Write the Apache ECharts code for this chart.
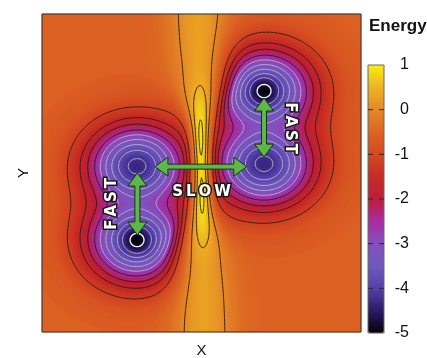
<!DOCTYPE html>
<html>
<head>
<meta charset="utf-8">
<script src="https://cdn.jsdelivr.net/npm/echarts@6/dist/echarts.min.js"></script>
<style>
  html, body { margin: 0; padding: 0; background: #fff; }
  #chart { width: 427px; height: 358px; }
</style>
</head>
<body>
<div id="chart"></div>
<script>
// energy surface (unit square, y pointing up)
const wellX = [0.696, 0.696, 0.298, 0.298];
const wellY = [0.758, 0.528, 0.522, 0.289];
const wellDepth = [3.75, 3.75, 3.75, 3.75];
const wellPit = [0.7, 0, 0, 0.7];
const wellWidths = [0.113, 0.097, 0.028]; // x, y, pit
const wellBlend = 1.2;
const baseEnergy = -0.55;
// barrier between the two pairs
const ridgeX = [0.509, 0.491];            // crest x at bottom and top
const ridgeCrest = [0.3, 0.95, 0.15];     // crest energy at ends, in the middle, dip at the centre
const ridgeMid = [0.52, 0.195, 0.038];    // centre y, half length, dip width
const ridgeWidths = [0.069, 0.025];       // width at the ends, in the middle
const ridgeShield = [0.0565, 0.022];      // how far the barrier hides the wells

const grayLevels = [-4.2, -3.85, -3.5, -3.15, -2.8];
const whiteLevels = [-4.75];
const blackLevels = [-2.45, -2.05, -1.65, -1.15, 0, 0.45, 0.85];

const cbTicks = [1, 0, -1, -2, -3, -4, -5];
const cbDashes = [0, -1, -2, -3, -4];

const arrowFrom = [[0.696, 0.736], [0.299, 0.5], [0.354, 0.52]];
const arrowTo = [[0.696, 0.55], [0.299, 0.305], [0.642, 0.52]];
const labelText = ['FAST', 'FAST', 'SLOW'];
const labelAt = [[0.777, 0.641], [0.219, 0.403], [0.5, 0.44]];
const labelTurn = [-90, 90, 0];

function depth(x, y) {
  let s = 0;
  for (let k = 0; k < wellX.length; k++) {
    const dx = (x - wellX[k]) / wellWidths[0], dy = (y - wellY[k]) / wellWidths[1];
    const r2 = (x - wellX[k]) ** 2 + (y - wellY[k]) ** 2;
    const g = wellDepth[k] * Math.exp(-(dx * dx + dy * dy) / 2)
            + wellPit[k] * Math.exp(-r2 / (2 * wellWidths[2] ** 2));
    s += Math.exp(g / wellBlend) - 1;
  }
  return wellBlend * Math.log(1 + s);
}

function energy(x, y) {
  const x0 = ridgeX[0] + (ridgeX[1] - ridgeX[0]) * y;
  const d = y - ridgeMid[0];
  const f = Math.exp(-0.5 * (d / ridgeMid[1]) ** 4);
  const crest = ridgeCrest[0] + (ridgeCrest[1] - ridgeCrest[0]) * f
              - ridgeCrest[2] * Math.exp(-d * d / (2 * ridgeMid[2] ** 2));
  const w = ridgeWidths[0] + (ridgeWidths[1] - ridgeWidths[0]) * f;
  const ws = ridgeShield[0] + (ridgeShield[1] - ridgeShield[0]) * f;
  const dx = x - x0;
  const S = Math.exp(-dx * dx / (2 * w * w));
  const m = Math.exp(-dx * dx / (2 * ws * ws));
  return baseEnergy - depth(x, y) * (1 - m) + (crest - baseEnergy) * S;
}

// heatmap cells, one per screen pixel
const NX = 319, NY = 318;
const xCats = [], yCats = [];
for (let i = 0; i < NX; i++) xCats.push(i);
for (let j = 0; j < NY; j++) yCats.push(j);
const cells = [];
for (let j = 0; j < NY; j++)
  for (let i = 0; i < NX; i++)
    cells.push([i, j, energy((i + 0.5) / NX, (j + 0.5) / NY)]);

// contour lines by marching squares
const M = 241;
const F = [];
for (let j = 0; j < M; j++) {
  const row = [];
  for (let i = 0; i < M; i++) row.push(energy(i / (M - 1), j / (M - 1)));
  F.push(row);
}

function contour(level) {
  const pos = new Map(), adj = new Map();
  const keyH = (i, j) => j * M + i, keyV = (i, j) => M * M + j * M + i;
  const point = (key) => {
    if (pos.has(key)) return;
    if (key < M * M) {
      const j = Math.floor(key / M), i = key % M;
      const t = (level - F[j][i]) / (F[j][i + 1] - F[j][i]);
      pos.set(key, [(i + t) / (M - 1), j / (M - 1)]);
    } else {
      const k = key - M * M, j = Math.floor(k / M), i = k % M;
      const t = (level - F[j][i]) / (F[j + 1][i] - F[j][i]);
      pos.set(key, [i / (M - 1), (j + t) / (M - 1)]);
    }
  };
  const link = (k1, k2) => {
    point(k1); point(k2);
    if (!adj.has(k1)) adj.set(k1, []);
    if (!adj.has(k2)) adj.set(k2, []);
    adj.get(k1).push(k2); adj.get(k2).push(k1);
  };
  for (let j = 0; j < M - 1; j++) {
    for (let i = 0; i < M - 1; i++) {
      const a = F[j][i] >= level, b = F[j][i + 1] >= level;
      const c = F[j + 1][i + 1] >= level, d = F[j + 1][i] >= level;
      const e = [];
      if (a !== b) e.push(keyH(i, j));
      if (b !== c) e.push(keyV(i + 1, j));
      if (c !== d) e.push(keyH(i, j + 1));
      if (d !== a) e.push(keyV(i, j));
      if (e.length === 2) link(e[0], e[1]);
      else if (e.length === 4) {
        const mid = (F[j][i] + F[j][i + 1] + F[j + 1][i + 1] + F[j + 1][i]) / 4 >= level;
        if (mid === a) { link(e[0], e[1]); link(e[2], e[3]); }
        else { link(e[0], e[3]); link(e[1], e[2]); }
      }
    }
  }
  const seen = new Set(), lines = [];
  const walk = (start) => {
    const pts = [pos.get(start)];
    seen.add(start);
    let cur = start;
    while (true) {
      const nb = adj.get(cur).find(k => !seen.has(k));
      if (nb === undefined) {
        if (pts.length > 2 && adj.get(cur).includes(start)) pts.push(pos.get(start));
        break;
      }
      seen.add(nb);
      pts.push(pos.get(nb));
      cur = nb;
    }
    lines.push(pts);
  };
  for (const [k, v] of adj) if (v.length === 1 && !seen.has(k)) walk(k);
  for (const k of adj.keys()) if (!seen.has(k)) walk(k);
  return lines;
}

const paths = [];
grayLevels.forEach(l => contour(l).forEach(p => paths.push({ pts: p, color: '#bcb8cc', width: 0.9 })));
whiteLevels.forEach(l => contour(l).forEach(p => paths.push({ pts: p, color: '#ffffff', width: 1.3 })));
blackLevels.forEach(l => contour(l).forEach(p => paths.push({ pts: p, color: '#2a1a14', width: 0.9 })));

const chart = echarts.init(document.getElementById('chart'));

const option = {
  animation: false,
  title: {
    text: 'Energy',
    left: 369,
    top: 18,
    padding: 0,
    textStyle: { fontFamily: 'Liberation Sans', fontWeight: 'bold', fontSize: 17, color: '#111' }
  },
  grid: [
    { left: 42, top: 14, width: 319, height: 318, outerBoundsMode: 'none' },
    { left: 42, top: 14, width: 319, height: 318, outerBoundsMode: 'none', show: true, z: 10,
      backgroundColor: 'rgba(0,0,0,0)', borderColor: '#333', borderWidth: 1 },
    { left: 368, top: 65, width: 16, height: 268, outerBoundsMode: 'none', show: true, z: 10,
      backgroundColor: 'rgba(0,0,0,0)', borderColor: '#666', borderWidth: 1 }
  ],
  xAxis: [
    { gridIndex: 0, type: 'category', data: xCats, show: false },
    { gridIndex: 1, type: 'value', min: 0, max: 1, name: 'X', nameLocation: 'middle', nameGap: 11,
      nameTextStyle: { fontFamily: 'Liberation Sans', fontSize: 15, color: '#111' },
      axisLine: { show: false }, axisTick: { show: false }, axisLabel: { show: false }, splitLine: { show: false } },
    { gridIndex: 2, type: 'value', min: 0, max: 1, show: false }
  ],
  yAxis: [
    { gridIndex: 0, type: 'category', data: yCats, show: false },
    { gridIndex: 1, type: 'value', min: 0, max: 1, name: 'Y', nameLocation: 'middle', nameGap: 11,
      nameTextStyle: { fontFamily: 'Liberation Sans', fontSize: 15, color: '#111' },
      axisLine: { show: false }, axisTick: { show: false }, axisLabel: { show: false }, splitLine: { show: false } },
    { gridIndex: 2, type: 'value', min: -5, max: 1, interval: 1, position: 'right',
      axisLine: { show: false }, axisTick: { show: false }, splitLine: { show: false },
      axisLabel: { fontFamily: 'Liberation Sans', fontSize: 16, color: '#111', margin: 25, align: 'right',
        formatter: v => cbTicks.includes(v) ? String(v) : '' } }
  ],
  visualMap: {
    type: 'continuous',
    seriesIndex: 0,
    dimension: 2,
    min: -5,
    max: 1,
    left: 368,
    top: 65,
    padding: 0,
    itemWidth: 16,
    itemHeight: 268,
    calculable: false,
    hoverLink: false,
    inRange: {
      color: ['#050208', '#2c1a68', '#5440a8', '#7058bc', '#8450c0', '#a82ca0', '#bc1e3a',
              '#c62c24', '#d44a22', '#dc6424', '#e4882a', '#eeb224', '#f8ee10']
    }
  },
  series: [
    {
      type: 'heatmap',
      xAxisIndex: 0,
      yAxisIndex: 0,
      data: cells,
      progressive: 0,
      silent: true,
      emphasis: { disabled: true }
    },
    {
      type: 'custom',
      xAxisIndex: 1,
      yAxisIndex: 1,
      silent: true,
      progressive: 0,
      z: 3,
      data: paths.map((p, k) => [0.5, 0.5, k]),
      renderItem: (params, api) => {
        const p = paths[params.dataIndex];
        return {
          type: 'polyline',
          shape: { points: p.pts.map(q => api.coord(q)) },
          style: { stroke: p.color, lineWidth: p.width, fill: null, lineJoin: 'round' }
        };
      }
    },
    {
      type: 'custom',
      xAxisIndex: 1,
      yAxisIndex: 1,
      silent: true,
      z: 4,
      data: arrowFrom.map((a, k) => [a[0], a[1], arrowTo[k][0], arrowTo[k][1]]),
      renderItem: (params, api) => {
        const p1 = api.coord([api.value(0), api.value(1)]);
        const p2 = api.coord([api.value(2), api.value(3)]);
        const L = Math.hypot(p2[0] - p1[0], p2[1] - p1[1]);
        const ux = (p2[0] - p1[0]) / L, uy = (p2[1] - p1[1]) / L;
        const nx = -uy, ny = ux;
        const hl = 13, hw = 9.5, sw = 2.5;
        const at = (p, s, t) => [p[0] + ux * s + nx * t, p[1] + uy * s + ny * t];
        const pts = [
          p1, at(p1, hl, hw), at(p1, hl, sw), at(p2, -hl, sw), at(p2, -hl, hw),
          p2, at(p2, -hl, -hw), at(p2, -hl, -sw), at(p1, hl, -sw), at(p1, hl, -hw)
        ];
        return {
          type: 'polygon',
          shape: { points: pts },
          style: { fill: '#5cb848', stroke: '#1c3012', lineWidth: 1 }
        };
      }
    },
    {
      type: 'custom',
      xAxisIndex: 1,
      yAxisIndex: 1,
      silent: true,
      z: 5,
      data: labelAt.map((a, k) => [a[0], a[1], k]),
      renderItem: (params, api) => {
        const k = api.value(2);
        const p = api.coord([api.value(0), api.value(1)]);
        return {
          type: 'text',
          x: p[0],
          y: p[1],
          rotation: labelTurn[k] * Math.PI / 180,
          style: {
            text: labelText[k].split('').join('\u2009'),
            font: 'bold 15px "DejaVu Sans"',
            fill: '#ffffff',
            stroke: '#1a1a1a',
            lineWidth: 3,
            strokeFirst: true,
            align: 'center',
            verticalAlign: 'middle'
          }
        };
      }
    },
    {
      type: 'custom',
      xAxisIndex: 2,
      yAxisIndex: 2,
      silent: true,
      z: 12,
      data: cbDashes.map(v => [0, v]),
      renderItem: (params, api) => {
        const a = api.coord([0, api.value(1)]);
        const b = api.coord([1, api.value(1)]);
        return {
          type: 'line',
          shape: { x1: a[0], y1: a[1], x2: b[0], y2: b[1] },
          style: { stroke: '#2a2a2a', lineWidth: 1, lineDash: [5, 6] }
        };
      }
    }
  ]
};

chart.setOption(option);
</script>
</body>
</html>
